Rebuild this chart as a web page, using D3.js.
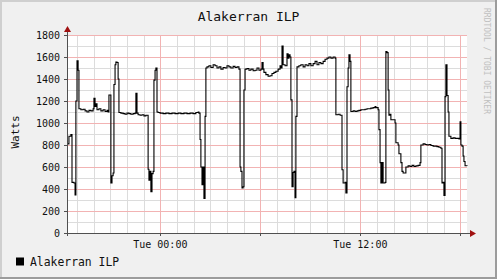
<!DOCTYPE html>
<html>
<head>
<meta charset="utf-8">
<script src="https://cdn.jsdelivr.net/npm/d3@7"></script>
<style>
  body { margin: 0; background: #f0f0f0; }
  text { font-family: "DejaVu Sans Mono", monospace; }
</style>
</head>
<body>
<div id="graph"></div>
<script>
const width = 497;
const height = 279;

// chart data: minutes after Mon 18:24 and measured watts
const startTime = new Date(2024, 0, 1, 18, 24);
const endTime = new Date(2024, 0, 2, 18, 24);
const minutes = [0, 7, 14, 18, 25, 29, 32, 36, 40, 43, 50, 58, 65, 72, 79, 86, 94, 97, 101, 104, 108, 115, 122, 130, 137, 144, 148, 151, 158, 162, 166, 169, 173, 176, 180, 184, 187, 194, 202, 209, 216, 223, 230, 238, 245, 248, 252, 256, 263, 270, 277, 284, 292, 295, 299, 302, 306, 310, 313, 317, 320, 324, 328, 335, 346, 356, 367, 378, 389, 400, 410, 421, 432, 443, 454, 464, 472, 475, 479, 482, 486, 490, 493, 497, 500, 504, 511, 518, 526, 533, 540, 547, 554, 562, 569, 576, 583, 590, 598, 605, 612, 619, 623, 626, 630, 634, 637, 641, 648, 655, 662, 670, 677, 684, 691, 698, 702, 706, 709, 716, 724, 731, 738, 745, 752, 760, 767, 770, 774, 778, 785, 792, 796, 799, 803, 806, 810, 814, 817, 821, 824, 828, 835, 842, 850, 857, 864, 871, 878, 886, 893, 900, 907, 914, 922, 929, 936, 943, 950, 958, 965, 968, 976, 983, 990, 994, 1001, 1004, 1008, 1012, 1015, 1019, 1022, 1030, 1037, 1044, 1051, 1058, 1066, 1073, 1080, 1087, 1094, 1102, 1109, 1112, 1120, 1123, 1127, 1130, 1134, 1138, 1145, 1148, 1152, 1156, 1159, 1163, 1166, 1174, 1181, 1184, 1192, 1195, 1202, 1206, 1210, 1217, 1220, 1228, 1235, 1242, 1249, 1256, 1264, 1271, 1274, 1282, 1289, 1296, 1303, 1310, 1318, 1325, 1332, 1339, 1346, 1350, 1354, 1357, 1361, 1364, 1368, 1372, 1375, 1382, 1390, 1397, 1404, 1411, 1415, 1418, 1422, 1426, 1429, 1433, 1440];
const watts = [810, 880, 895, 460, 455, 345, 1200, 1565, 1480, 1130, 1120, 1125, 1110, 1100, 1115, 1110, 1130, 1225, 1150, 1175, 1120, 1130, 1110, 1120, 1105, 1115, 1100, 1255, 455, 520, 545, 1350, 1530, 1555, 1550, 1400, 1095, 1090, 1085, 1080, 1090, 1085, 1080, 1085, 1090, 1270, 1090, 1075, 1070, 1075, 1065, 1070, 580, 480, 560, 375, 540, 560, 1390, 1480, 1500, 1100, 1095, 1090, 1085, 1090, 1085, 1090, 1085, 1090, 1085, 1090, 1085, 1090, 1085, 1095, 1100, 1090, 850, 600, 440, 600, 315, 1060, 1500, 1510, 1520, 1505, 1530, 1520, 1500, 1510, 1490, 1505, 1500, 1520, 1510, 1500, 1515, 1505, 1510, 1490, 600, 560, 410, 420, 1300, 1490, 1495, 1480, 1490, 1475, 1480, 1500, 1480, 1490, 1550, 1490, 1460, 1440, 1425, 1430, 1450, 1460, 1470, 1490, 1520, 1500, 1700, 1530, 1520, 1630, 1590, 1620, 1600, 1210, 420, 550, 560, 320, 1060, 1510, 1520, 1530, 1510, 1530, 1520, 1540, 1520, 1540, 1560, 1530, 1550, 1540, 1560, 1580, 1590, 1600, 1590, 1600, 1590, 1075, 1080, 1070, 575, 455, 460, 365, 1330, 1500, 1620, 1560, 1105, 1110, 1105, 1110, 1115, 1120, 1120, 1125, 1130, 1130, 1135, 1140, 1150, 1140, 1120, 940, 640, 455, 640, 455, 460, 1650, 1640, 1300, 1070, 1080, 1030, 1030, 1000, 820, 800, 720, 640, 560, 545, 545, 600, 610, 605, 615, 605, 610, 615, 640, 800, 810, 805, 800, 805, 795, 790, 790, 785, 780, 770, 455, 460, 342, 1240, 1530, 1250, 1100, 880, 860, 865, 860, 860, 855, 1010, 800, 790, 700, 650, 612, 610];
const yTicks = [0, 200, 400, 600, 800, 1000, 1200, 1400, 1600, 1800];
const titleText = "Alakerran ILP";
const yLabel = "Watts";
const legendText = "Alakerran ILP";

const data = minutes.map((m, i) => ({
    t: new Date(startTime.getTime() + m * 60000),
    v: watts[i]
}));

const plot = { left: 67, right: 467, top: 35, bottom: 233 };

const x = d3.scaleTime().domain([startTime, endTime]).range([plot.left, plot.right]);
const y = d3.scaleLinear().domain([0, 1800]).range([plot.bottom, plot.top]);

const svg = d3.select("#graph").append("svg")
    .attr("width", width)
    .attr("height", height)
    .attr("viewBox", [0, 0, width, height]);

// background and 3d frame
svg.append("rect").attr("width", width).attr("height", height).attr("fill", "#f0f0f0");
svg.append("path").attr("d", `M0,${height} V0 H${width}`).attr("fill", "none")
    .attr("stroke", "#cfcfcf").attr("stroke-width", 4);
svg.append("path").attr("d", `M${width},0 V${height} H0`).attr("fill", "none")
    .attr("stroke", "#9c9c9c").attr("stroke-width", 4);

svg.append("rect")
    .attr("x", plot.left).attr("y", plot.top)
    .attr("width", plot.right - plot.left).attr("height", plot.bottom - plot.top)
    .attr("fill", "#fff");

// grid
const minorY = d3.range(100, 1801, 100).filter(v => v % 200 !== 0);
const majorY = yTicks.filter(v => v > 0);
const minorX = d3.timeHour.range(startTime, endTime).filter(d => d.getHours() % 6 !== 0);
const majorX = d3.timeHour.every(6).range(startTime, endTime);
const labelX = d3.timeHour.every(12).range(startTime, endTime);

const grid = svg.append("g").attr("shape-rendering", "crispEdges");
grid.selectAll(".mx").data(minorX).enter().append("line")
    .attr("x1", d => Math.round(x(d)) + 0.5).attr("x2", d => Math.round(x(d)) + 0.5)
    .attr("y1", plot.top).attr("y2", plot.bottom)
    .attr("stroke", "#dcdcdc");
grid.selectAll(".my").data(minorY).enter().append("line")
    .attr("x1", plot.left).attr("x2", plot.right)
    .attr("y1", d => Math.round(y(d)) + 0.5).attr("y2", d => Math.round(y(d)) + 0.5)
    .attr("stroke", "#dcdcdc");
grid.selectAll(".Mx").data(majorX).enter().append("line")
    .attr("x1", d => Math.round(x(d)) + 0.5).attr("x2", d => Math.round(x(d)) + 0.5)
    .attr("y1", plot.top).attr("y2", plot.bottom)
    .attr("stroke", "#f2b3b3");
grid.selectAll(".My").data(majorY).enter().append("line")
    .attr("x1", plot.left).attr("x2", plot.right)
    .attr("y1", d => Math.round(y(d)) + 0.5).attr("y2", d => Math.round(y(d)) + 0.5)
    .attr("stroke", "#f2b3b3");

// data line (step like rrdtool)
const line = d3.line()
    .x(d => x(d.t))
    .y(d => y(d.v))
    .curve(d3.curveStepAfter);

svg.append("path")
    .datum(data)
    .attr("fill", "none")
    .attr("stroke", "#000")
    .attr("stroke-width", 1.1)
    .attr("d", line);

// axes
const axisColor = "#505050";
svg.append("line").attr("x1", plot.left - 3).attr("x2", plot.right + 3)
    .attr("y1", plot.bottom + 0.5).attr("y2", plot.bottom + 0.5).attr("stroke", axisColor);
svg.append("line").attr("x1", plot.left + 0.5).attr("x2", plot.left + 0.5)
    .attr("y1", plot.bottom + 3).attr("y2", plot.top - 4).attr("stroke", axisColor);
svg.append("path")
    .attr("d", `M${plot.right + 3},${plot.bottom - 3} L${plot.right + 9},${plot.bottom + 0.5} L${plot.right + 3},${plot.bottom + 4} Z`)
    .attr("fill", "#a01010");
svg.append("path")
    .attr("d", `M${plot.left - 3},${plot.top - 3} L${plot.left + 0.5},${plot.top - 9} L${plot.left + 4},${plot.top - 3} Z`)
    .attr("fill", "#a01010");

// tick marks
svg.append("g").selectAll("line").data(yTicks).enter().append("line")
    .attr("x1", plot.left - 3).attr("x2", plot.left)
    .attr("y1", d => Math.round(y(d)) + 0.5).attr("y2", d => Math.round(y(d)) + 0.5)
    .attr("stroke", axisColor);
svg.append("g").selectAll("line").data(majorX).enter().append("line")
    .attr("x1", d => Math.round(x(d)) + 0.5).attr("x2", d => Math.round(x(d)) + 0.5)
    .attr("y1", plot.bottom).attr("y2", plot.bottom + 3)
    .attr("stroke", axisColor);

// tick labels
svg.append("g").selectAll("text").data(yTicks).enter().append("text")
    .attr("x", plot.left - 7)
    .attr("y", d => y(d) + 3.5)
    .attr("text-anchor", "end")
    .attr("font-size", 10)
    .attr("fill", "#111")
    .text(d => d);

const fmt = d3.timeFormat("%a %H:%M");
svg.append("g").selectAll("text").data(labelX).enter().append("text")
    .attr("x", d => x(d))
    .attr("y", 248)
    .attr("text-anchor", "middle")
    .attr("font-size", 10)
    .attr("fill", "#111")
    .text(d => fmt(d));

// title
svg.append("text")
    .attr("x", 248.5).attr("y", 21)
    .attr("text-anchor", "middle")
    .attr("font-size", 13)
    .attr("fill", "#111")
    .text(titleText);

// y label
svg.append("text")
    .attr("transform", "translate(19,132) rotate(-90)")
    .attr("text-anchor", "middle")
    .attr("font-size", 11)
    .attr("fill", "#111")
    .text(yLabel);

// watermark
svg.append("text")
    .attr("transform", "translate(484,61) rotate(90)")
    .attr("text-anchor", "middle")
    .attr("font-size", 8)
    .attr("fill", "#c0c0c0")
    .text("RRDTOOL / TOBI OETIKER");

// legend
svg.append("rect")
    .attr("x", 16).attr("y", 257.5).attr("width", 8).attr("height", 8)
    .attr("fill", "#000");
svg.append("text")
    .attr("x", 30).attr("y", 265.5)
    .attr("font-size", 11.4)
    .attr("fill", "#111")
    .text(legendText);
</script>
</body>
</html>
